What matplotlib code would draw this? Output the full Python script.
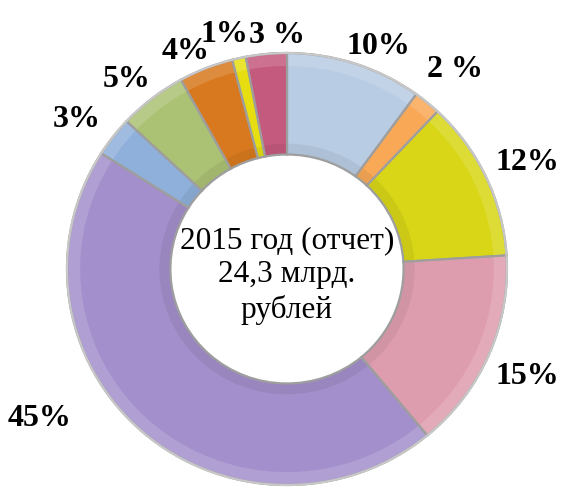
import numpy as np
import matplotlib.pyplot as plt
from matplotlib.patches import Wedge, Ellipse
from matplotlib.colors import to_rgb

plt.rcParams['font.family'] = ['Liberation Serif', 'DejaVu Serif']

# shares of the 2015 budget, clockwise from 12 o'clock
shares = [10, 2, 12, 15, 45, 3, 5, 4, 1, 3]
labels = ["10%", "2 %", "12%", "15%", "45%", "3%", "5%", "4%", "1%", "3 %"]
colors = ["#B8CCE4", "#F9A856", "#D8D616", "#DE9DAE", "#A38FCB",
          "#8FB0DA", "#ABC173", "#D8791F", "#E6DE10", "#C45A7E"]
center_text = "2015 год (отчет)\n24,3 млрд.\nрублей"

# label placement (radius in units of outer radius, angle tweak in degrees)
label_r = [1.11, 1.2, 1.2, 1.2, 1.32, 1.18, 1.14, 1.11, 1.12, 1.08]
label_da = [4, 0, 1, 1, 17, -2, -2, -3, -2, 3]


def shade(c, f):
    r = np.array(to_rgb(c))
    if f > 0:
        return tuple(r + (1 - r) * f)
    return tuple(r * (1 + f))


fig = plt.figure(figsize=(5.70, 4.87), dpi=100)
ax = fig.add_axes([0, 0, 1, 1])
# slightly squashed vertically, like the original
ax.set_xlim(-1.3045, 1.2864)
ax.set_ylim(-1.0093, 1.2454)
ax.set_aspect("auto")
ax.axis("off")

R = 1.0
w = 0.47
cum = np.concatenate([[0], np.cumsum(shares)]) / sum(shares) * 360.0

for i, s in enumerate(shares):
    # clockwise from top -> matplotlib angles
    t1 = 90 - cum[i + 1]
    t2 = 90 - cum[i]
    ax.add_patch(Wedge((0, 0), R, t1, t2, width=w, facecolor=colors[i],
                       edgecolor="none"))
    # soft bevel: lighter outer rim, darker inner rim
    ax.add_patch(Wedge((0, 0), R, t1, t2, width=0.06,
                       facecolor=shade(colors[i], 0.14), edgecolor="none"))
    ax.add_patch(Wedge((0, 0), R - w + 0.05, t1, t2, width=0.05,
                       facecolor=shade(colors[i], -0.06), edgecolor="none"))
    ax.add_patch(Wedge((0, 0), R, t1, t2, width=w, facecolor="none",
                       edgecolor="#9E9E9E", linewidth=1.6))
    mid = (cum[i] + cum[i + 1]) / 2 + label_da[i]
    a = np.deg2rad(90 - mid)
    ax.text(label_r[i] * np.cos(a), label_r[i] * np.sin(a), labels[i],
            ha="center", va="center", fontsize=23, fontweight="bold")

ax.add_patch(Ellipse((0, 0), 2 * R, 2 * R, fill=False, edgecolor="#C8C8C8",
                     linewidth=1.5))

ax.text(0, -0.03, center_text, ha="center", va="center", fontsize=22.5,
        linespacing=1.25)

fig.savefig("out.png", dpi=100)
